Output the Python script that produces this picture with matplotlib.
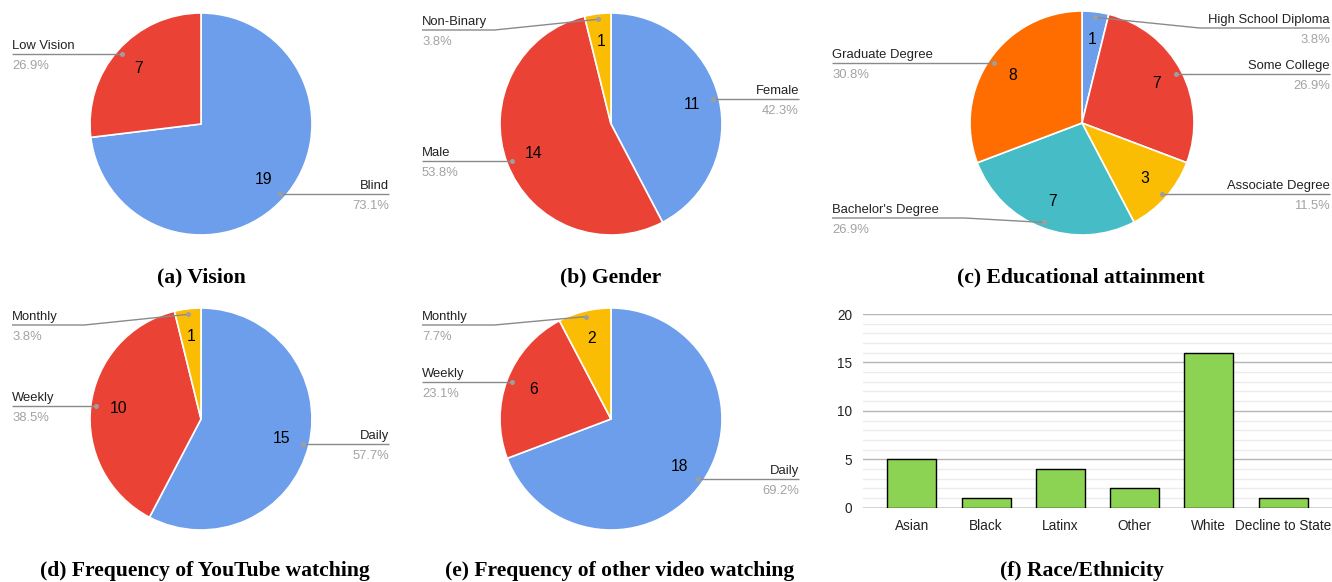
import matplotlib
matplotlib.use("Agg")
import matplotlib.pyplot as plt
import numpy as np

# ---------------- data ----------------
vision_labels = ["Blind", "Low Vision"]
vision_values = [19, 7]

gender_labels = ["Female", "Male", "Non-Binary"]
gender_values = [11, 14, 1]

edu_labels = ["High School Diploma", "Some College", "Associate Degree",
              "Bachelor's Degree", "Graduate Degree"]
edu_values = [1, 7, 3, 7, 8]

yt_labels = ["Daily", "Weekly", "Monthly"]
yt_values = [15, 10, 1]

video_labels = ["Daily", "Weekly", "Monthly"]
video_values = [18, 6, 2]

race_labels = ["Asian", "Black", "Latinx", "Other", "White", "Decline to State"]
race_values = [5, 1, 4, 2, 16, 1]

captions = ["(a) Vision", "(b) Gender", "(c) Educational attainment",
            "(d) Frequency of YouTube watching", "(e) Frequency of other video watching",
            "(f) Race/Ethnicity"]

# ---------------- style ----------------
BLUE, RED, YELLOW, TEAL, ORANGE = "#6d9eeb", "#ea4335", "#fbbc04", "#46bdc6", "#ff6d01"
GREEN = "#8cd253"
LINE = "#8a8a8a"
DOT = "#9e9e9e"
PCT = "#a3a3a3"
SANS = ["Liberation Sans", "DejaVu Sans"]
SERIF = ["Liberation Serif", "DejaVu Serif"]

W, H = 1332, 582
fig = plt.figure(figsize=(W / 100, H / 100), dpi=100)
ax = fig.add_axes([0, 0, 1, 1])

# pie layouts: center (px from top-left), radius, left/right label edge offsets, label-y overrides
pies = [
    dict(labels=vision_labels, values=vision_values, colors=[BLUE, RED],
         c=(201, 124), r=111, edges=(189, 188), override={}),
    dict(labels=gender_labels, values=gender_values, colors=[BLUE, RED, YELLOW],
         c=(611, 124), r=111, edges=(189, 188), override={2: 30}),
    dict(labels=edu_labels, values=edu_values, colors=[BLUE, RED, YELLOW, TEAL, ORANGE],
         c=(1082, 123), r=112, edges=(250, 248), override={0: 28, 3: 218}),
    dict(labels=yt_labels, values=yt_values, colors=[BLUE, RED, YELLOW],
         c=(201, 419), r=111, edges=(189, 188), override={2: 325}),
    dict(labels=video_labels, values=video_values, colors=[BLUE, RED, YELLOW],
         c=(611, 419), r=111, edges=(189, 188), override={2: 325}),
]

for p in pies:
    vals = np.array(p["values"], dtype=float)
    total = vals.sum()
    cx, cy_top = p["c"]
    cy = H - cy_top
    r = p["r"]

    def fmt(pct, total=total):
        return f"{int(round(pct * total / 100))}"

    ax.pie(vals, colors=p["colors"], startangle=90, counterclock=False,
           center=(cx, cy), radius=r,
           wedgeprops=dict(edgecolor="white", linewidth=1.2),
           autopct=fmt, pctdistance=0.75,
           textprops=dict(fontsize=11.3, family=SANS, color="black"))

    cum = np.concatenate([[0], np.cumsum(vals)[:-1]])
    for i, (lab, v) in enumerate(zip(p["labels"], vals)):
        ang = np.deg2rad(90 - 360 * (cum[i] + v / 2) / total)
        dx, dy = np.cos(ang), np.sin(ang)
        x0, y0 = cx + 0.95 * r * dx, cy + 0.95 * r * dy
        left = dx < 0
        xe = cx - p["edges"][0] if left else cx + p["edges"][1]
        yl = H - p["override"][i] if i in p["override"] else y0
        if i in p["override"]:
            xb = cx - 1.05 * r if left else cx + 1.05 * r
            xs, ys = [x0, xb, xe], [y0, yl, yl]
        else:
            xs, ys = [x0, xe], [y0, y0]
        ax.plot(xs, ys, color=LINE, lw=1, solid_capstyle="butt", zorder=5)
        ax.plot([x0], [y0], "o", color=DOT, ms=3.6, mec="none", zorder=6)
        ha = "left" if left else "right"
        ax.text(xe, yl + 5, lab, ha=ha, va="baseline", fontsize=9.4,
                family=SANS, color="#222222")
        ax.text(xe, yl - 15, f"{v / total * 100:.1f}%", ha=ha, va="baseline",
                fontsize=9.4, family=SANS, color=PCT)

ax.set_xlim(0, W)
ax.set_ylim(0, H)
ax.set_axis_off()

# ---------------- bar chart ----------------
bx0, bx1 = 863, 1332
by_top, by_bot = 314, 507.7
bax = fig.add_axes([bx0 / W, (H - by_bot) / H, (bx1 - bx0) / W, (by_bot - by_top) / H])
xpos = np.arange(len(race_labels))
bax.bar(xpos, race_values, width=0.66, color=GREEN, edgecolor="black",
        linewidth=1, joinstyle="round", zorder=3)
bax.set_xlim(-0.66, len(race_labels) - 1 + 0.66)
bax.set_ylim(0, 20)
bax.set_yticks([0, 5, 10, 15, 20])
bax.set_yticks(np.arange(0, 21, 1), minor=True)
bax.set_xticks(xpos)
bax.set_xticklabels(race_labels, fontsize=9.8, family=SANS, color="#222222")
for t in bax.get_yticklabels():
    t.set_fontfamily(SANS)
bax.tick_params(axis="y", labelsize=9.8, length=0, pad=8, colors="#222222")
bax.tick_params(axis="y", which="minor", length=0)
bax.tick_params(axis="x", length=0, pad=8)
bax.grid(axis="y", which="major", color="#b5b5b5", lw=1, zorder=0)
bax.grid(axis="y", which="minor", color="#ececec", lw=1, zorder=0)
bax.set_axisbelow(True)
for s in bax.spines.values():
    s.set_visible(False)
bax.axhline(0, color="#666666", lw=1, zorder=2)

# ---------------- captions ----------------
cap_pos = [(201, 277), (611, 277), (1081, 277), (205, 571), (620, 571), (1082, 571)]
for txt, (x, y) in zip(captions, cap_pos):
    fig.text(x / W, (H - y) / H, txt, ha="center", va="center", fontsize=15.6,
             fontweight="bold", family=SERIF)

fig.savefig("out.png", dpi=100)
